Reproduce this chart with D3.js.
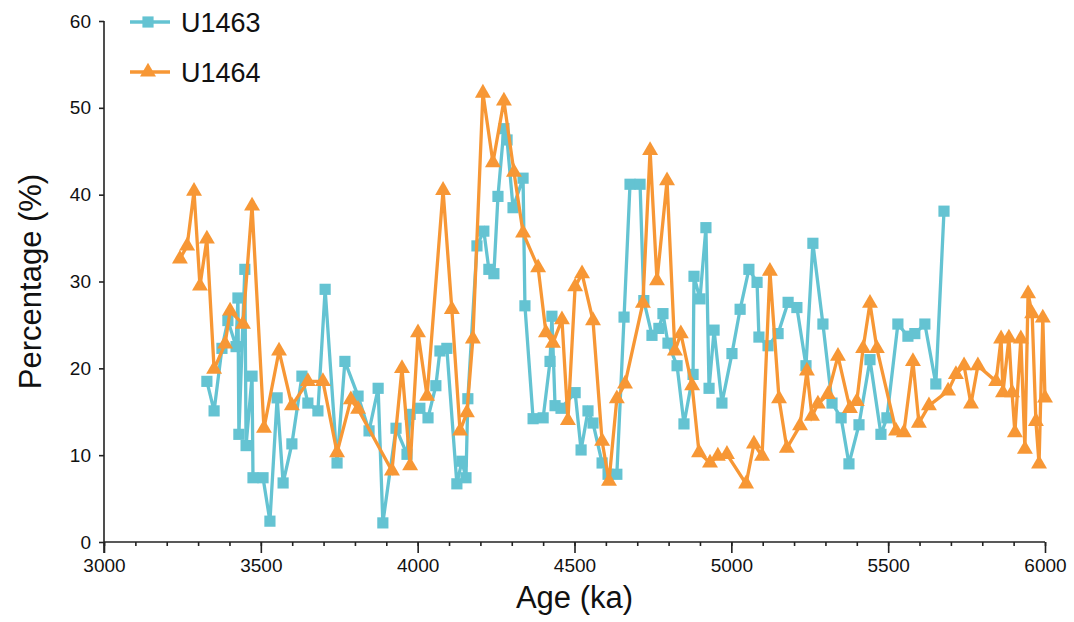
<!DOCTYPE html>
<html>
<head>
<meta charset="utf-8">
<script src="https://cdn.jsdelivr.net/npm/d3@7"></script>
<style>
  html, body { margin: 0; padding: 0; background: #fff; }
  svg { display: block; font-family: "Liberation Sans", Arial, sans-serif; }
</style>
</head>
<body>
<svg id="chart" width="1074" height="622"></svg>
<script>
// Age (ka) and percentage for site U1463
const u1463Age = [3328, 3351, 3376, 3395, 3421, 3427, 3430, 3449, 3453, 3472, 3475, 3507, 3529, 3552, 3571, 3599, 3631, 3650, 3682, 3705,
  3743, 3768, 3810, 3845, 3874, 3889, 3931, 3966, 3976, 4007, 4033, 4058, 4071, 4093, 4125, 4141, 4154, 4160, 4189, 4211,
  4227, 4243, 4256, 4275, 4285, 4304, 4336, 4342, 4368, 4400, 4422, 4428, 4438, 4457, 4502, 4521, 4543, 4559, 4588, 4607,
  4635, 4658, 4677, 4709, 4721, 4747, 4769, 4782, 4798, 4827, 4849, 4878, 4881, 4900, 4919, 4929, 4945, 4970, 5002, 5028,
  5056, 5082, 5088, 5117, 5149, 5181, 5209, 5238, 5260, 5292, 5321, 5350, 5375, 5407, 5442, 5477, 5496, 5531, 5563, 5585,
  5617, 5652, 5678];
const u1463Pct = [18.5, 15.1, 22.3, 25.5, 22.5, 28.1, 12.4, 31.4, 11.1, 19.1, 7.4, 7.4, 2.4, 16.6, 6.8, 11.3, 19.1, 16.0, 15.1, 29.1,
  9.1, 20.8, 16.8, 12.8, 17.7, 2.2, 13.1, 10.1, 14.7, 15.4, 14.3, 18.0, 22.0, 22.3, 6.7, 9.3, 7.4, 16.5, 34.1, 35.8,
  31.4, 30.9, 39.8, 47.6, 46.3, 38.5, 41.9, 27.2, 14.2, 14.3, 20.8, 26.0, 15.7, 15.4, 17.2, 10.6, 15.1, 13.7, 9.1, 7.8,
  7.8, 25.9, 41.2, 41.2, 27.8, 23.8, 24.6, 26.3, 22.9, 20.3, 13.6, 19.3, 30.6, 28.0, 36.2, 17.7, 24.4, 16.0, 21.7, 26.8,
  31.4, 29.9, 23.6, 22.6, 24.0, 27.6, 27.0, 20.3, 34.4, 25.1, 16.0, 14.3, 9.0, 13.5, 21.0, 12.4, 14.3, 25.1, 23.7, 24.0,
  25.1, 18.2, 38.1];

// Age (ka) and percentage for site U1464
const u1464Age = [3242, 3265, 3287, 3306, 3328, 3351, 3386, 3402, 3443, 3472, 3510, 3558, 3599, 3650, 3698, 3743, 3787, 3810, 3918, 3950,
  3976, 4001, 4030, 4081, 4109, 4135, 4157, 4176, 4208, 4240, 4275, 4307, 4336, 4384, 4409, 4431, 4460, 4479, 4502, 4524,
  4559, 4588, 4610, 4635, 4661, 4718, 4741, 4763, 4795, 4820, 4839, 4875, 4897, 4932, 4957, 4986, 5047, 5072, 5098, 5123,
  5152, 5177, 5219, 5241, 5257, 5276, 5308, 5340, 5378, 5400, 5420, 5442, 5464, 5525, 5550, 5579, 5598, 5630, 5691, 5716,
  5742, 5764, 5786, 5844, 5860, 5866, 5885, 5895, 5904, 5923, 5936, 5946, 5959, 5971, 5981, 5993, 6000];
const u1464Pct = [32.6, 34.1, 40.4, 29.5, 34.9, 19.9, 22.8, 26.6, 25.1, 38.7, 13.1, 22.0, 15.7, 18.5, 18.5, 10.3, 16.4, 15.3, 8.2, 20.0,
  8.8, 24.1, 16.8, 40.5, 26.8, 12.8, 14.9, 23.4, 51.7, 43.7, 50.8, 42.6, 35.6, 31.6, 24.1, 22.9, 25.6, 14.0, 29.4, 30.9,
  25.5, 11.6, 7.0, 16.5, 18.2, 27.5, 45.1, 30.1, 41.6, 22.0, 24.0, 18.0, 10.3, 9.1, 9.9, 10.1, 6.7, 11.3, 9.9, 31.2,
  16.5, 10.8, 13.4, 19.7, 14.5, 15.9, 17.0, 21.4, 15.4, 16.2, 22.3, 27.5, 22.3, 12.8, 12.6, 20.8, 13.7, 15.7, 17.4, 19.3,
  20.3, 15.9, 20.3, 18.5, 23.4, 17.2, 23.5, 17.2, 12.6, 23.4, 10.7, 28.6, 26.3, 13.9, 9.0, 25.8, 16.6];

const seriesNames = ["U1463", "U1464"];
const xTicks = [3000, 3500, 4000, 4500, 5000, 5500, 6000];
const xMinorTicks = d3.range(3000, 6001, 100);
const yTicks = [0, 10, 20, 30, 40, 50, 60];

const colors = { U1463: "#64c3d2", U1464: "#f79735" };

const svg = d3.select("#chart");
const x = d3.scaleLinear().domain([3000, 6000]).range([104, 1045]);
const y = d3.scaleLinear().domain([0, 60]).range([542, 21]);

// Axes: minor ticks every 100 ka, labelled majors every 500 ka
const xAxisG = svg.append("g").attr("transform", `translate(0,${y(0)})`);
xAxisG.call(d3.axisBottom(x).tickValues(xMinorTicks).tickSize(4).tickFormat(""));
xAxisG.call(g => g.select(".domain").remove());
const xMajor = svg.append("g").attr("transform", `translate(0,${y(0)})`)
  .call(d3.axisBottom(x).tickValues(xTicks).tickSize(11).tickPadding(6).tickFormat(d3.format("d")));
xMajor.select(".domain").attr("d", `M${x(3000)},0H${x(6000)}`);

const yAxisG = svg.append("g").attr("transform", `translate(${x(3000)},0)`)
  .call(d3.axisLeft(y).tickValues(yTicks).tickSize(5).tickPadding(8).tickFormat(d3.format("d")));
yAxisG.select(".domain").attr("d", `M0,${y(60)}V${y(0) + 11}`);

svg.selectAll(".tick line, .domain").attr("stroke", "#222").attr("stroke-width", 1.6);
svg.selectAll(".tick text").attr("font-size", 19).attr("fill", "#111")
  .attr("font-family", "'Liberation Sans', Arial, sans-serif");

// Axis titles
svg.append("text").attr("x", (x(3000) + x(6000)) / 2).attr("y", 608)
  .attr("text-anchor", "middle").attr("font-size", 31).attr("fill", "#111").text("Age (ka)");
svg.append("text").attr("transform", `translate(41,${(y(0) + y(60)) / 2}) rotate(-90)`)
  .attr("text-anchor", "middle").attr("font-size", 31).attr("fill", "#111").text("Percentage (%)");

// Series
const series = [
  { name: "U1463", ages: u1463Age, vals: u1463Pct, symbol: d3.symbolSquare, size: 125 },
  { name: "U1464", ages: u1464Age, vals: u1464Pct, symbol: d3.symbolTriangle, size: 110 }
];

const line = d3.line().x(d => x(d[0])).y(d => y(d[1]));

series.forEach(s => {
  const pts = s.ages.map((a, i) => [a, s.vals[i]]);
  const g = svg.append("g");
  g.append("path").datum(pts).attr("d", line)
    .attr("fill", "none").attr("stroke", colors[s.name]).attr("stroke-width", 3.3)
    .attr("stroke-linejoin", "miter");
  g.selectAll("path.mark").data(pts).join("path").attr("class", "mark")
    .attr("transform", d => `translate(${x(d[0])},${y(d[1])})`)
    .attr("d", d3.symbol().type(s.symbol).size(s.size))
    .attr("fill", colors[s.name]);
});

// Legend
const legend = svg.append("g");
series.forEach((s, i) => {
  const ly = 22 + i * 50;
  legend.append("line").attr("x1", 130).attr("x2", 170).attr("y1", ly).attr("y2", ly)
    .attr("stroke", colors[s.name]).attr("stroke-width", 3.3);
  legend.append("path").attr("transform", `translate(148,${ly})`)
    .attr("d", d3.symbol().type(s.symbol).size(s.size)).attr("fill", colors[s.name]);
  legend.append("text").attr("x", 181).attr("y", ly + 10).attr("font-size", 27)
    .attr("fill", "#111").text(s.name);
});
</script>
</body>
</html>
